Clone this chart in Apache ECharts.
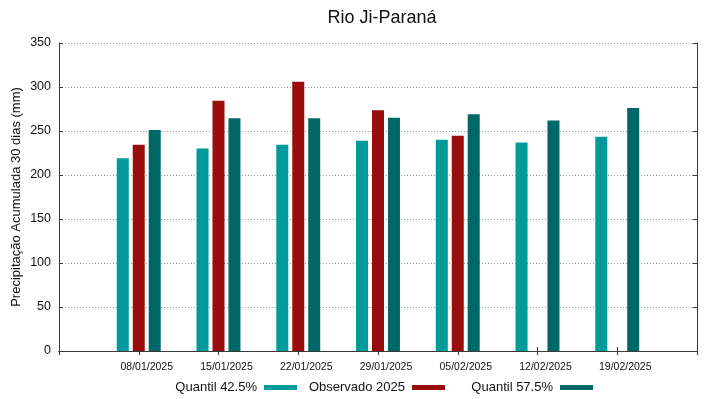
<!DOCTYPE html>
<html>
<head>
<meta charset="utf-8">
<script src="https://cdn.jsdelivr.net/npm/echarts@6/dist/echarts.min.js"></script>
<style>
  html, body { margin: 0; padding: 0; background: #fff; }
  #main { width: 719px; height: 399px; }
</style>
</head>
<body>
<div id="main"></div>
<script>
// datas das semanas
const datas = ['08/01/2025', '15/01/2025', '22/01/2025', '29/01/2025', '05/02/2025', '12/02/2025', '19/02/2025'];
// valores (mm)
const quantil425 = [219, 230, 234.5, 239, 240, 237, 243.5];
const observado2025 = [234.5, 284.5, 306, 273.5, 244.5, null, null];
const quantil575 = [251, 264.5, 264.5, 265, 269, 262, 276];
const yTicks = [0, 50, 100, 150, 200, 250, 300, 350];

const fonte = 'Liberation Sans, Arial, sans-serif';
const corFrame = '#3a3a3a';

// eixo com uma posicao vazia de cada lado, como no gnuplot
const categorias = [''].concat(datas, ['']);
function pad(arr) {
    return [null].concat(arr, [null]);
}

function legenda(nome, right) {
    return {
        data: [nome],
        right: right,
        top: 381,
        align: 'right',
        padding: 0,
        icon: 'rect',
        itemWidth: 33,
        itemHeight: 5,
        itemGap: 0,
        selectedMode: false,
        textStyle: { fontFamily: fonte, fontSize: 13, color: '#111', padding: [0, 2, 0, 0] }
    };
}

let myChart = echarts.init(document.getElementById('main'), null, { renderer: 'canvas' });

let option = {
    animation: false,
    backgroundColor: '#fff',
    title: {
        text: 'Rio Ji-Paraná',
        left: 377,
        top: 4,
        textAlign: 'center',
        textStyle: { fontFamily: fonte, fontSize: 18, fontWeight: 'normal', color: '#111' }
    },
    legend: [
        legenda('Quantil 42.5%', 719 - 297),
        legenda('Observado 2025', 719 - 445),
        legenda('Quantil 57.5%', 719 - 593)
    ],
    grid: { left: 59, right: 22, top: 43, bottom: 48, containLabel: false, outerBoundsMode: 'none' },
    xAxis: [
        {
            type: 'category',
            data: categorias,
            boundaryGap: false,
            axisLine: { lineStyle: { color: corFrame, width: 1 } },
            axisTick: {
                inside: true, length: 4, interval: 0,
                lineStyle: { color: corFrame }
            },
            axisLabel: {
                interval: 0,
                margin: 11,
                fontFamily: fonte,
                fontSize: 10.5,
                color: '#111',
                padding: [0, 0, 0, 16]
            },
            splitLine: { show: false }
        },
        {
            type: 'category',
            data: categorias,
            boundaryGap: false,
            position: 'top',
            axisLine: { lineStyle: { color: corFrame, width: 1 } },
            axisTick: {
                inside: true, length: 4, interval: 0,
                lineStyle: { color: corFrame }
            },
            axisLabel: { show: false },
            splitLine: { show: false }
        }
    ],
    yAxis: [
        {
            type: 'value',
            min: yTicks[0],
            max: yTicks[yTicks.length - 1],
            interval: 50,
            name: 'Precipitação Acumulada 30 dias (mm)',
            nameLocation: 'middle',
            nameGap: 36,
            nameMoveOverlap: false,
            nameTextStyle: { fontFamily: fonte, fontSize: 13, color: '#111' },
            axisLine: { show: true, lineStyle: { color: corFrame, width: 1 } },
            axisTick: { show: true, inside: true, length: 4, lineStyle: { color: corFrame } },
            axisLabel: { margin: 8, fontFamily: fonte, fontSize: 12.5, color: '#111' },
            splitLine: { show: true, lineStyle: { color: '#9a9a9a', type: [1, 2], width: 1 } }
        },
        {
            type: 'value',
            min: yTicks[0],
            max: yTicks[yTicks.length - 1],
            interval: 50,
            position: 'right',
            axisLine: { show: true, lineStyle: { color: corFrame, width: 1 } },
            axisTick: { show: true, inside: true, length: 4, lineStyle: { color: corFrame } },
            axisLabel: { show: false },
            splitLine: { show: false }
        }
    ],
    series: [
        {
            name: 'Quantil 42.5%',
            type: 'bar',
            data: pad(quantil425),
            barWidth: 12,
            barGap: '33%',
            itemStyle: { color: '#009a9a' }
        },
        {
            name: 'Observado 2025',
            type: 'bar',
            data: pad(observado2025),
            barWidth: 12,
            barGap: '33%',
            itemStyle: { color: '#9a0d0d' }
        },
        {
            name: 'Quantil 57.5%',
            type: 'bar',
            data: pad(quantil575),
            barWidth: 12,
            barGap: '33%',
            itemStyle: { color: '#006767' }
        }
    ]
};

myChart.setOption(option);
</script>
</body>
</html>
